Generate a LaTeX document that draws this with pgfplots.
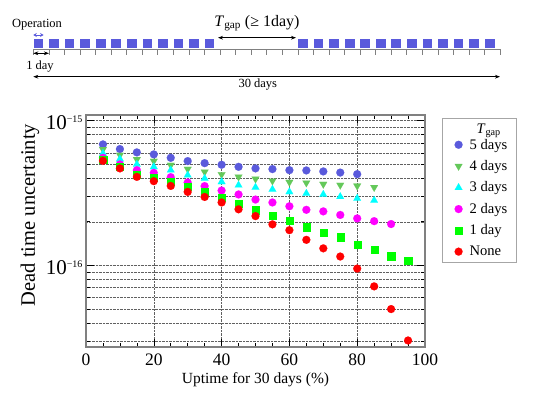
\documentclass[border=0pt]{standalone}
\usepackage{fontspec}
\setmainfont{Liberation Serif}
\usepackage{pgfplots}
\pgfplotsset{compat=1.18}
\usetikzlibrary{arrows.meta}

\definecolor{c5}{RGB}{90,90,220}
\definecolor{c4}{RGB}{100,200,90}
\definecolor{c3}{RGB}{0,255,255}
\definecolor{c2}{RGB}{255,0,255}
\definecolor{c1}{RGB}{0,255,0}
\definecolor{c0}{RGB}{255,0,0}

\begin{document}
\begin{tikzpicture}
\useasboundingbox (0,0) rectangle (551pt,392pt);

% schematic of the 30-day operation
\draw[gray, line width=0.6pt] (33.3pt,342.7pt) -- (500pt,342.7pt);
\foreach \k in {0,...,30}
  \draw[gray, line width=0.6pt] (33.3pt+\k*15.56pt,342.7pt) -- ++(0,-5.7pt);
\foreach \d in {0,...,11}
  \fill[c5] (33.6pt+\d*15.56pt,343.7pt) rectangle ++(9.7pt,9pt);
\foreach \d in {17,...,29}
  \fill[c5] (33.6pt+\d*15.56pt,343.7pt) rectangle ++(9.7pt,9pt);
\draw[c5, line width=0.9pt, {Stealth[length=3.5pt,width=4pt]}-{Stealth[length=3.5pt,width=4pt]}] (33.3pt,357pt) -- (43.6pt,357pt);
\node[font=\fontsize{12.5}{15}\selectfont] at (37pt,367pt) {Operation};
\draw[line width=0.8pt, {Stealth[length=5pt]}-{Stealth[length=5pt]}] (218pt,354.3pt) -- (296pt,354.3pt);
\node[font=\fontsize{16}{19}\selectfont] at (257pt,369pt) {\textit{T}\textsubscript{gap} (≥ 1day)};
\draw[line width=0.8pt, {Stealth[length=5pt]}-{Stealth[length=5pt]}] (33.3pt,338.7pt) -- (48.9pt,338.7pt);
\node[font=\fontsize{12.5}{15}\selectfont] at (40pt,325.5pt) {1 day};
\draw[line width=0.8pt, {Stealth[length=5pt]}-{Stealth[length=5pt]}] (33.3pt,315.3pt) -- (500pt,315.3pt);
\node[font=\fontsize{12.5}{15}\selectfont] at (257.8pt,307pt) {30 days};

\begin{axis}[
  at={(86pt,45pt)}, anchor=south west,
  width=339pt, height=232pt, scale only axis,
  xmin=0, xmax=100,
  ymode=log, ymin=2.72e-17, ymax=1.095e-15,
  xtick={0,20,...,100}, minor x tick num=3,
  /pgf/number format/assume math mode=true,
  xticklabel style={font=\fontsize{17.5}{20}\selectfont, yshift=-3pt},
  yticklabel={10\raisebox{7pt}{\fontsize{10}{10}\selectfont −\pgfmathparse{int(round(-\tick/ln(10)))}\pgfmathresult}},
  yticklabel style={font=\fontsize{21}{24}\selectfont, yshift=-2pt},
  xlabel={Uptime for 30 days (\%)},
  ylabel={Dead time uncertainty},
  xlabel style={font=\fontsize{15.5}{18}\selectfont, at={(axis description cs:0.5,0)}, anchor=base, yshift=-36pt},
  ylabel style={font=\fontsize{20.5}{24}\selectfont, at={(axis description cs:-0.165,0.569)}, anchor=center},
  xmajorgrids, ymajorgrids, yminorgrids,
  major grid style={densely dotted, gray!75!black, line width=0.5pt},
  minor grid style={densely dotted, gray!75!black, line width=0.5pt},
  axis line style={gray, line width=1.2pt},
  tick style={black, line width=0.6pt},
  major tick length=8pt, minor tick length=4pt,
  legend style={at={(axis description cs:1.050,0.987)}, anchor=north west,
    draw=gray!70, line width=1.2pt, font=\fontsize{14.6}{17}\selectfont,
    row sep=5.8pt, inner xsep=7.5pt, inner ysep=3pt},
  legend cell align=left,
]
\addlegendimage{empty legend}
\addlegendentry{\raisebox{-5.7pt}[4pt][0pt]{\hspace{12pt}\textit{T}\textsubscript{gap}}}

\addplot[only marks, color=c5, mark=*, mark size=4pt, mark options={line width=0.1pt}] coordinates {
(5,6.86e-16)(10,6.37e-16)(15,6.04e-16)(20,5.85e-16)(25,5.54e-16)(30,5.26e-16)(35,5.09e-16)(40,4.96e-16)
(45,4.80e-16)(50,4.68e-16)(55,4.63e-16)(60,4.55e-16)(65,4.53e-16)(70,4.46e-16)(75,4.38e-16)(80,4.27e-16)};
\addlegendentry{\hspace{5pt}5 days}

\addplot[only marks, color=c4, mark=triangle*, mark size=4.4pt, mark options={line width=0.1pt, rotate=180}] coordinates {
(5,6.34e-16)(10,5.79e-16)(15,5.40e-16)(20,5.26e-16)(25,4.93e-16)(30,4.63e-16)(35,4.43e-16)(40,4.25e-16)
(45,4.09e-16)(50,3.96e-16)(55,3.84e-16)(60,3.76e-16)(65,3.72e-16)(70,3.64e-16)(75,3.59e-16)(80,3.54e-16)(85,3.46e-16)};
\addlegendentry{\hspace{5pt}4 days}

\addplot[only marks, color=c3, mark=triangle*, mark size=4.4pt, mark options={line width=0.1pt}] coordinates {
(5,5.94e-16)(10,5.43e-16)(15,4.99e-16)(20,4.80e-16)(25,4.55e-16)(30,4.20e-16)(35,3.99e-16)(40,3.78e-16)
(45,3.58e-16)(50,3.46e-16)(55,3.35e-16)(60,3.22e-16)(65,3.14e-16)(70,3.09e-16)(75,2.98e-16)(80,2.90e-16)(85,2.81e-16)};
\addlegendentry{\hspace{5pt}3 days}

\addplot[only marks, color=c2, mark=*, mark size=4pt, mark options={line width=0.1pt}] coordinates {
(5,5.54e-16)(10,4.99e-16)(15,4.55e-16)(20,4.36e-16)(25,4.07e-16)(30,3.74e-16)(35,3.53e-16)(40,3.29e-16)
(45,3.09e-16)(50,2.85e-16)(55,2.72e-16)(60,2.56e-16)(65,2.42e-16)(70,2.36e-16)(75,2.23e-16)(80,2.11e-16)(85,2.02e-16)(90,1.93e-16)};
\addlegendentry{\hspace{5pt}2 days}

\addplot[only marks, color=c1, mark=square*, mark size=3.6pt, mark options={line width=0.1pt}] coordinates {
(5,5.40e-16)(10,4.82e-16)(15,4.25e-16)(20,4.03e-16)(25,3.78e-16)(30,3.49e-16)(35,3.22e-16)(40,2.94e-16)
(45,2.68e-16)(50,2.41e-16)(55,2.22e-16)(60,2.03e-16)(65,1.84e-16)(70,1.69e-16)(75,1.57e-16)(80,1.40e-16)
(85,1.28e-16)(90,1.16e-16)(95,1.08e-16)};
\addlegendentry{\hspace{5pt}1 day}

\addplot[only marks, color=c0, mark=*, mark size=4pt, mark options={line width=0.1pt}] coordinates {
(5,5.28e-16)(10,4.68e-16)(15,4.09e-16)(20,3.82e-16)(25,3.54e-16)(30,3.22e-16)(35,2.97e-16)(40,2.72e-16)
(45,2.44e-16)(50,2.19e-16)(55,1.92e-16)(60,1.75e-16)(65,1.50e-16)(70,1.31e-16)(75,1.15e-16)(80,9.49e-17)
(85,7.15e-17)(90,4.98e-17)(95,3.02e-17)};
\addlegendentry{\hspace{5pt}None}
\end{axis}
\end{tikzpicture}
\end{document}
